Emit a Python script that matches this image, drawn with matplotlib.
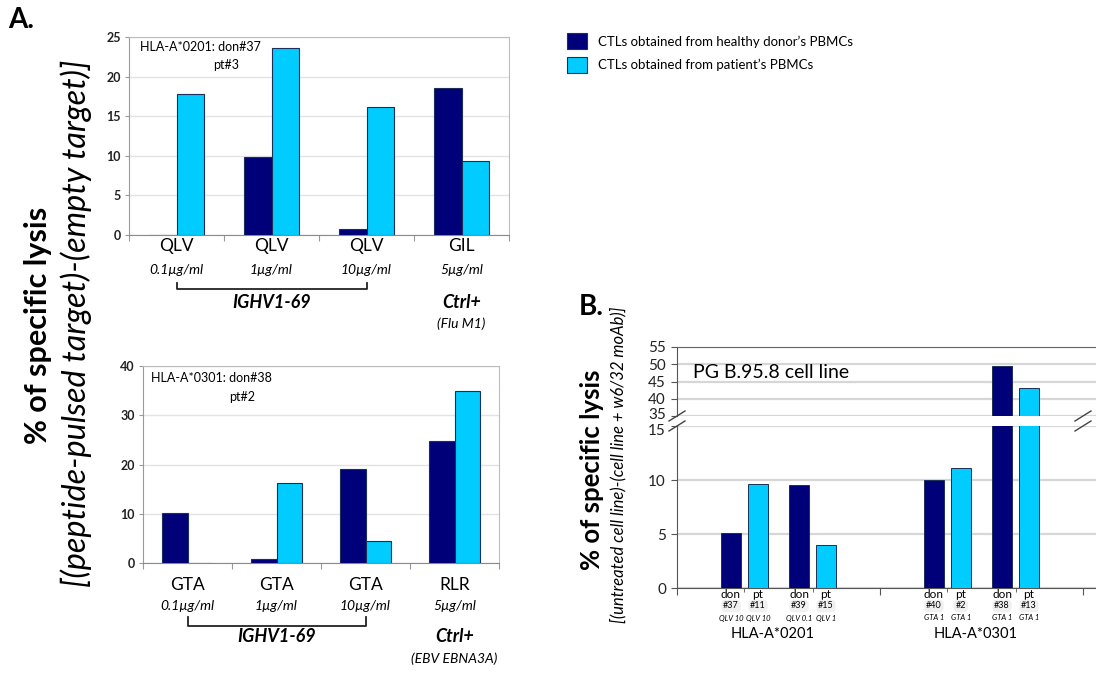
import matplotlib
matplotlib.use("Agg")
import matplotlib.pyplot as plt
import matplotlib.transforms as mtransforms
from matplotlib.lines import Line2D
import numpy as np

plt.rcParams['font.family'] = ['Lato', 'DejaVu Sans']

W, H = 1096, 673

# ---------------- data ----------------
series_names = ["CTLs obtained from healthy donor\u2019s PBMCs", "CTLs obtained from patient\u2019s PBMCs"]
colors = ["#000078", "#00CCFF"]

a1_peptides = ["QLV", "QLV", "QLV", "GIL"]
a1_conc = ["0.1\u00b5g/ml", "1\u00b5g/ml", "10\u00b5g/ml", "5\u00b5g/ml"]
a1_donor = [0.0, 9.8, 0.7, 18.6]
a1_patient = [17.8, 23.6, 16.2, 9.3]
a1_yticks = [0, 5, 10, 15, 20, 25]

a2_peptides = ["GTA", "GTA", "GTA", "RLR"]
a2_conc = ["0.1\u00b5g/ml", "1\u00b5g/ml", "10\u00b5g/ml", "5\u00b5g/ml"]
a2_donor = [10.2, 0.8, 19.0, 24.8]
a2_patient = [0.0, 16.3, 4.4, 35.0]
a2_yticks = [0, 10, 20, 30, 40]

b_groups = ["HLA-A*0201", "HLA-A*0301"]
b_ids = ["#37", "#11", "#39", "#15", "#40", "#2", "#38", "#13"]
b_kind = ["don", "pt", "don", "pt", "don", "pt", "don", "pt"]
b_pep = ["QLV 10", "QLV 10", "QLV 0.1", "QLV 1", "GTA 1", "GTA 1", "GTA 1", "GTA 1"]
b_values = [5.1, 9.6, 9.5, 4.0, 10.0, 11.1, 49.5, 43.0]
b_low_ticks = [0, 5, 10, 15]
b_high_ticks = [35, 40, 45, 50, 55]

fig = plt.figure(figsize=(W / 100, H / 100), dpi=100)


def add_ax(l, t, r, b):
    return fig.add_axes([l / W, 1 - b / H, (r - l) / W, (b - t) / H])


def fy(px):
    return 1 - px / H


def fx(px):
    return px / W


edge = "#1b2f5a"


def panel_a(ax, donor, patient, peptides, conc, yticks, ymax, info, lab_px):
    x = np.arange(len(peptides)) + 0.5
    w = 0.29
    b1 = ax.bar(x - w / 2, donor, w, color=colors[0], edgecolor=edge, linewidth=0.8, zorder=3)
    b2 = ax.bar(x + w / 2, patient, w, color=colors[1], edgecolor=edge, linewidth=0.8, zorder=3)
    ax.set_xlim(0, len(peptides))
    ax.set_ylim(0, ymax)
    ax.set_yticks(yticks)
    ax.set_yticklabels([str(v) for v in yticks], fontweight='bold', fontsize=9, color='#222222')
    ax.yaxis.grid(True, color='#e3e3e3', linewidth=1.0, zorder=0)
    ax.set_xticks(np.arange(len(peptides) + 1))
    ax.set_xticklabels([])
    ax.tick_params(axis='x', length=4, color='#999999', width=0.8)
    ax.tick_params(axis='y', length=3, color='#999999', width=0.8, pad=3)
    for s in ['top', 'right']:
        ax.spines[s].set_color('#bdbdbd')
    ax.spines['left'].set_color('#9a9a9a')
    ax.spines['bottom'].set_color('#8a8a8a')
    ax.set_axisbelow(True)
    ax.text(info[0], info[1], info[2], transform=fig.transFigure, fontsize=9, va='center', ha='left')
    ax.text(info[3], info[4], info[5], transform=fig.transFigure, fontsize=9, va='center', ha='left')
    tr = mtransforms.blended_transform_factory(ax.transData, fig.transFigure)
    name_y, conc_y, br_y, br_top, grp_y = lab_px
    for xi, p, c in zip(x, peptides, conc):
        ax.text(xi, fy(name_y), p, transform=tr, ha='center', va='center', fontsize=12.5)
        ax.text(xi, fy(conc_y), c, transform=tr, ha='center', va='center', fontsize=10, style='italic')
    ax.add_line(Line2D([x[0], x[0], x[2], x[2]], [fy(br_top), fy(br_y), fy(br_y), fy(br_top)],
                       transform=tr, color='#222222', linewidth=1.3, clip_on=False))
    ax.text(x[1], fy(grp_y), "IGHV1-69", transform=tr, ha='center', va='center', fontsize=13,
            fontweight='bold', style='italic')
    ax.text(x[3], fy(grp_y), "Ctrl+", transform=tr, ha='center', va='center', fontsize=13,
            fontweight='bold', style='italic')
    return b1, b2


ax1 = add_ax(129, 37, 509, 235)
b1, b2 = panel_a(ax1, a1_donor, a1_patient, a1_peptides, a1_conc, a1_yticks, 25,
                 (fx(140), fy(47), "HLA-A*0201: don#37", fx(213), fy(65), "pt#3"),
                 (246, 270, 289, 283, 303))
tr1 = mtransforms.blended_transform_factory(ax1.transData, fig.transFigure)
ax1.text(3.5, fy(324), "(Flu M1)", transform=tr1, ha='center', va='center', fontsize=10, style='italic')

ax2 = add_ax(143, 366, 499, 563)
panel_a(ax2, a2_donor, a2_patient, a2_peptides, a2_conc, a2_yticks, 40,
        (fx(151), fy(378), "HLA-A*0301: don#38", fx(229), fy(397), "pt#2"),
        (585, 606, 626, 617, 637))
tr2 = mtransforms.blended_transform_factory(ax2.transData, fig.transFigure)
ax2.text(3.5, fy(659), "(EBV EBNA3A)", transform=tr2, ha='center', va='center', fontsize=10, style='italic')

# A labels
fig.text(fx(8), fy(20), "A.", fontsize=20, fontweight='bold', va='center', ha='left')
fig.text(fx(38), fy(325), "% of specific lysis", rotation=90, fontsize=22, fontweight='bold',
         ha='center', va='center')
fig.text(fx(76), fy(323), "[(peptide-pulsed target)-(empty target)]", rotation=90, fontsize=23.3,
         style='italic', ha='center', va='center')

# legend
fig.legend([b1, b2], series_names, loc='upper left', bbox_to_anchor=(fx(562), fy(28)),
           frameon=False, fontsize=9.5, handlelength=1.5, handleheight=1.5, labelspacing=0.55,
           handletextpad=0.8, borderaxespad=0)

# ---------------- Panel B ----------------
b_left, b_right = 677, 1096
b_xmax = (b_right - b_left) / 203.0
axh = add_ax(b_left, 347, b_right, 416)
axl = add_ax(b_left, 426, b_right, 588)
offs = [-0.234, -0.101, 0.101, 0.234]
bx = []
for g in range(len(b_groups)):
    for o in offs:
        bx.append(g + 0.5 + o)
bw = 0.1
bcols = [colors[0] if k == "don" else colors[1] for k in b_kind]
for a in (axh, axl):
    a.bar(bx, b_values, bw, color=bcols, edgecolor=edge, linewidth=0.7, zorder=3)
    a.set_xlim(0, b_xmax)
    a.yaxis.grid(True, color='#d6d6d6', linewidth=1.6, zorder=0)
    a.set_axisbelow(True)
    a.spines['right'].set_visible(False)
    a.spines['left'].set_color('#555555')
    a.tick_params(axis='y', labelsize=11, labelcolor='#222222', length=4, color='#555555', pad=4)
axh.set_ylim(35, 55)
axh.set_yticks(b_high_ticks)
axh.spines['bottom'].set_visible(False)
axh.spines['top'].set_color('#666666')
axh.set_xticks([])
axl.set_ylim(0, 15)
axl.set_yticks(b_low_ticks)
axl.spines['top'].set_visible(False)
axl.spines['bottom'].set_color('#555555')
# nudge the two labels at the break apart
off_up = mtransforms.ScaledTranslation(0, 1.5 / 72, fig.dpi_scale_trans)
off_dn = mtransforms.ScaledTranslation(0, -2.5 / 72, fig.dpi_scale_trans)
axh.get_yticklabels()[0].set_transform(axh.get_yticklabels()[0].get_transform() + off_up)
axl.get_yticklabels()[-1].set_transform(axl.get_yticklabels()[-1].get_transform() + off_dn)

tick_pos = [0, 1, 2]
mid_ticks = []
for g in range(len(b_groups)):
    mid_ticks += [g + 0.5 - 0.1675, g + 0.5 + 0.1675]
axl.set_xticks(tick_pos)
axl.set_xticklabels([])
axl.set_xticks(mid_ticks, minor=True)
axl.tick_params(axis='x', which='major', length=5, color='#555555')
axl.tick_params(axis='x', which='minor', length=3, color='#555555')

# break marks
for xs in (b_left, 1083):
    for yc in (416, 426):
        fig.add_artist(Line2D([fx(xs - 8), fx(xs + 8)], [fy(yc + 5), fy(yc - 5)], color='#444444',
                              linewidth=1.0))

trb = mtransforms.blended_transform_factory(axl.transData, fig.transFigure)
for xi, k, i, p in zip(bx, b_kind, b_ids, b_pep):
    axl.text(xi, fy(594), k, transform=trb, ha='center', va='center', fontsize=8.5)
    axl.text(xi, fy(606), i, transform=trb, ha='center', va='center', fontsize=6.5,
             bbox=dict(boxstyle='round,pad=0.2,rounding_size=0.5', fc='#f0f0f0', ec='none'))
    axl.text(xi, fy(618), p, transform=trb, ha='center', va='center', fontsize=5.5, style='italic')
for g, name in enumerate(b_groups):
    axl.text(g + 0.47, fy(634), name, transform=trb, ha='center', va='center', fontsize=10.5)

axh.text(fx(693), fy(373), "PG B.95.8 cell line", transform=fig.transFigure, fontsize=14,
         ha='left', va='center')

fig.text(fx(579), fy(307), "B.", fontsize=20, fontweight='bold', va='center', ha='left')
fig.text(fx(592), fy(470), "% of specific lysis", rotation=90, fontsize=18.5, fontweight='bold',
         ha='center', va='center')
fig.text(fx(618), fy(465), "[(untreated cell line)-(cell line + w6/32 moAb)]", rotation=90,
         fontsize=12, style='italic', ha='center', va='center')

fig.savefig("out.png", dpi=100)
